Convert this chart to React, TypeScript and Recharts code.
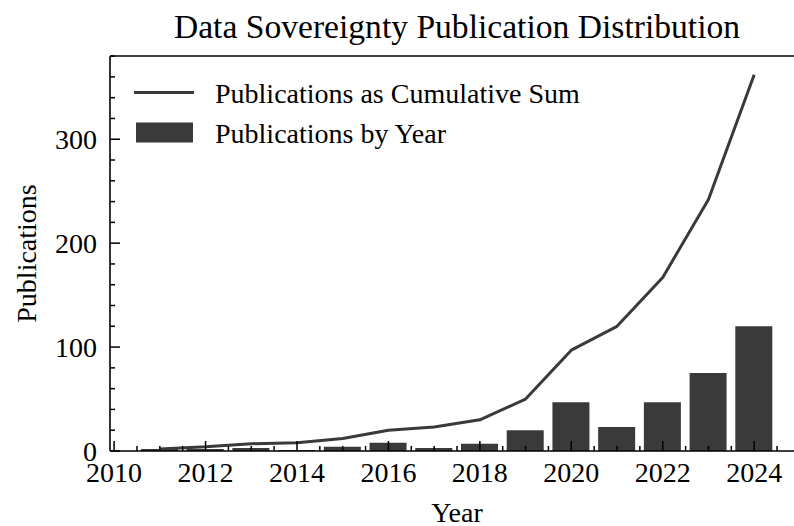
import { ComposedChart, Bar, Line, XAxis, YAxis, Legend } from "recharts";

// Publications per year and their running total
const years = [2011, 2012, 2013, 2014, 2015, 2016, 2017, 2018, 2019, 2020, 2021, 2022, 2023, 2024];
const pubsByYear = [2, 2, 3, 1, 4, 8, 3, 7, 20, 47, 23, 47, 75, 120];
const pubsCumulative = [2, 4, 7, 8, 12, 20, 23, 30, 50, 97, 120, 167, 242, 362];

const xMajorTicks = [2010, 2012, 2014, 2016, 2018, 2020, 2022, 2024];
const yMajorTicks = [0, 100, 200, 300];

// minor ticks every half year / every 20 publications
const xTicks = Array.from({ length: 31 }, (_, i) => 2010 + i * 0.5);
const yTicks = Array.from({ length: 20 }, (_, i) => i * 20);

const chartData = years.map((year, i) => ({
  year,
  byYear: pubsByYear[i],
  cumulative: pubsCumulative[i],
}));

const INK = "#000";
const SERIES = "#3a3a3a";
const FONT = "'Liberation Serif', 'DejaVu Serif', serif";

// inward-pointing ticks (matplotlib "in" style), labels only on majors
const tickLen = (major: boolean) => (major ? 10 : 5);

const bottomTick = (props: any) => {
  const { x, y, payload } = props;
  const major = xMajorTicks.includes(payload.value);
  return (
    <g>
      <line x1={x} x2={x} y1={y} y2={y - tickLen(major)} stroke={INK} strokeWidth={1.5} />
      {major && (
        <text x={x} y={y + 30.7} textAnchor="middle" fontSize={28} fill={INK} fontFamily={FONT}>
          {payload.value}
        </text>
      )}
    </g>
  );
};

const topTick = (props: any) => {
  const { x, y, payload } = props;
  const major = xMajorTicks.includes(payload.value);
  return <line x1={x} x2={x} y1={y} y2={y + tickLen(major)} stroke={INK} strokeWidth={1.5} />;
};

const leftTick = (props: any) => {
  const { x, y, payload } = props;
  const major = yMajorTicks.includes(payload.value);
  return (
    <g>
      <line x1={x} x2={x + tickLen(major)} y1={y} y2={y} stroke={INK} strokeWidth={1.5} />
      {major && (
        <text x={x - 13} y={y + 9.5} textAnchor="end" fontSize={28} fill={INK} fontFamily={FONT}>
          {payload.value}
        </text>
      )}
    </g>
  );
};

const rightTick = (props: any) => {
  const { x, y, payload } = props;
  const major = yMajorTicks.includes(payload.value);
  return <line x1={x} x2={x - tickLen(major)} y1={y} y2={y} stroke={INK} strokeWidth={1.5} />;
};

const renderLegend = (props: any) => {
  const items = [...(props.payload ?? [])].sort(
    (a: any, b: any) => (a.type === "line" ? 0 : 1) - (b.type === "line" ? 0 : 1)
  );
  return (
    <svg width={500} height={160} style={{ position: "absolute", left: 0, top: 0, overflow: "visible" }}>
      {items.map((item: any, i: number) => {
        const cy = 92.5 + i * 40;
        return (
          <g key={item.value}>
            {item.type === "line" ? (
              <line x1={134} x2={194} y1={cy} y2={cy} stroke={SERIES} strokeWidth={3} />
            ) : (
              <rect x={136} y={cy - 10} width={57} height={20} fill={SERIES} />
            )}
            <text x={215} y={cy + 10} fontSize={28} fill={INK} fontFamily={FONT}>
              {item.value}
            </text>
          </g>
        );
      })}
    </svg>
  );
};

const yLabel = (props: any) => {
  const vb = props.viewBox ?? { y: 56, height: 395 };
  const cx = 36;
  const cy = vb.y + vb.height / 2;
  return (
    <text
      x={cx}
      y={cy}
      transform={`rotate(-90 ${cx} ${cy})`}
      textAnchor="middle"
      fontSize={28}
      fill={INK}
      fontFamily={FONT}
    >
      Publications
    </text>
  );
};

export default function App() {
  return (
    <div
      style={{
        position: "absolute",
        left: 0,
        top: 0,
        width: 794,
        height: 526,
        overflow: "hidden",
        background: "#fff",
        fontFamily: FONT,
      }}
    >
      <ComposedChart
        width={830}
        height={526}
        data={chartData}
        margin={{ top: 0, right: 0, bottom: 0, left: 0 }}
      >
        <XAxis
          dataKey="year"
          type="number"
          domain={[2009.91, 2025.09]}
          ticks={xTicks}
          interval={0}
          height={75}
          tickSize={0}
          tickMargin={0}
          tickLine={false}
          tick={bottomTick}
          axisLine={{ stroke: INK, strokeWidth: 1.6 }}
          label={{ value: "Year", position: "insideBottom", offset: 4, fontSize: 28, fill: INK }}
        />
        <XAxis
          xAxisId="top"
          orientation="top"
          type="number"
          domain={[2009.91, 2025.09]}
          ticks={xTicks}
          interval={0}
          height={56}
          tickSize={0}
          tickMargin={0}
          tickLine={false}
          tick={topTick}
          axisLine={{ stroke: INK, strokeWidth: 1.6 }}
        />
        <YAxis
          type="number"
          domain={[0, 380.1]}
          ticks={yTicks}
          interval={0}
          width={110}
          tickSize={0}
          tickMargin={0}
          tickLine={false}
          tick={leftTick}
          axisLine={{ stroke: INK, strokeWidth: 1.6 }}
          label={{ content: yLabel }}
        />
        <YAxis
          yAxisId="right"
          orientation="right"
          type="number"
          domain={[0, 380.1]}
          ticks={yTicks}
          interval={0}
          width={26}
          tickSize={0}
          tickMargin={0}
          tickLine={false}
          tick={rightTick}
          axisLine={{ stroke: INK, strokeWidth: 1.6 }}
        />
        <Legend
          layout="horizontal"
          align="center"
          verticalAlign="middle"
          wrapperStyle={{ top: 0, left: 0 }}
          content={renderLegend}
        />
        <Bar
          dataKey="byYear"
          name="Publications by Year"
          fill={SERIES}
          barSize={37}
          isAnimationActive={false}
        />
        <Line
          dataKey="cumulative"
          name="Publications as Cumulative Sum"
          type="linear"
          stroke={SERIES}
          strokeWidth={3}
          strokeLinejoin="round"
          dot={false}
          activeDot={false}
          isAnimationActive={false}
        />
      </ComposedChart>
      <div
        style={{
          position: "absolute",
          left: 0,
          top: 10,
          width: 914,
          textAlign: "center",
          fontSize: 33.6,
          lineHeight: 1,
          color: INK,
        }}
      >
        Data Sovereignty Publication Distribution
      </div>
    </div>
  );
}
